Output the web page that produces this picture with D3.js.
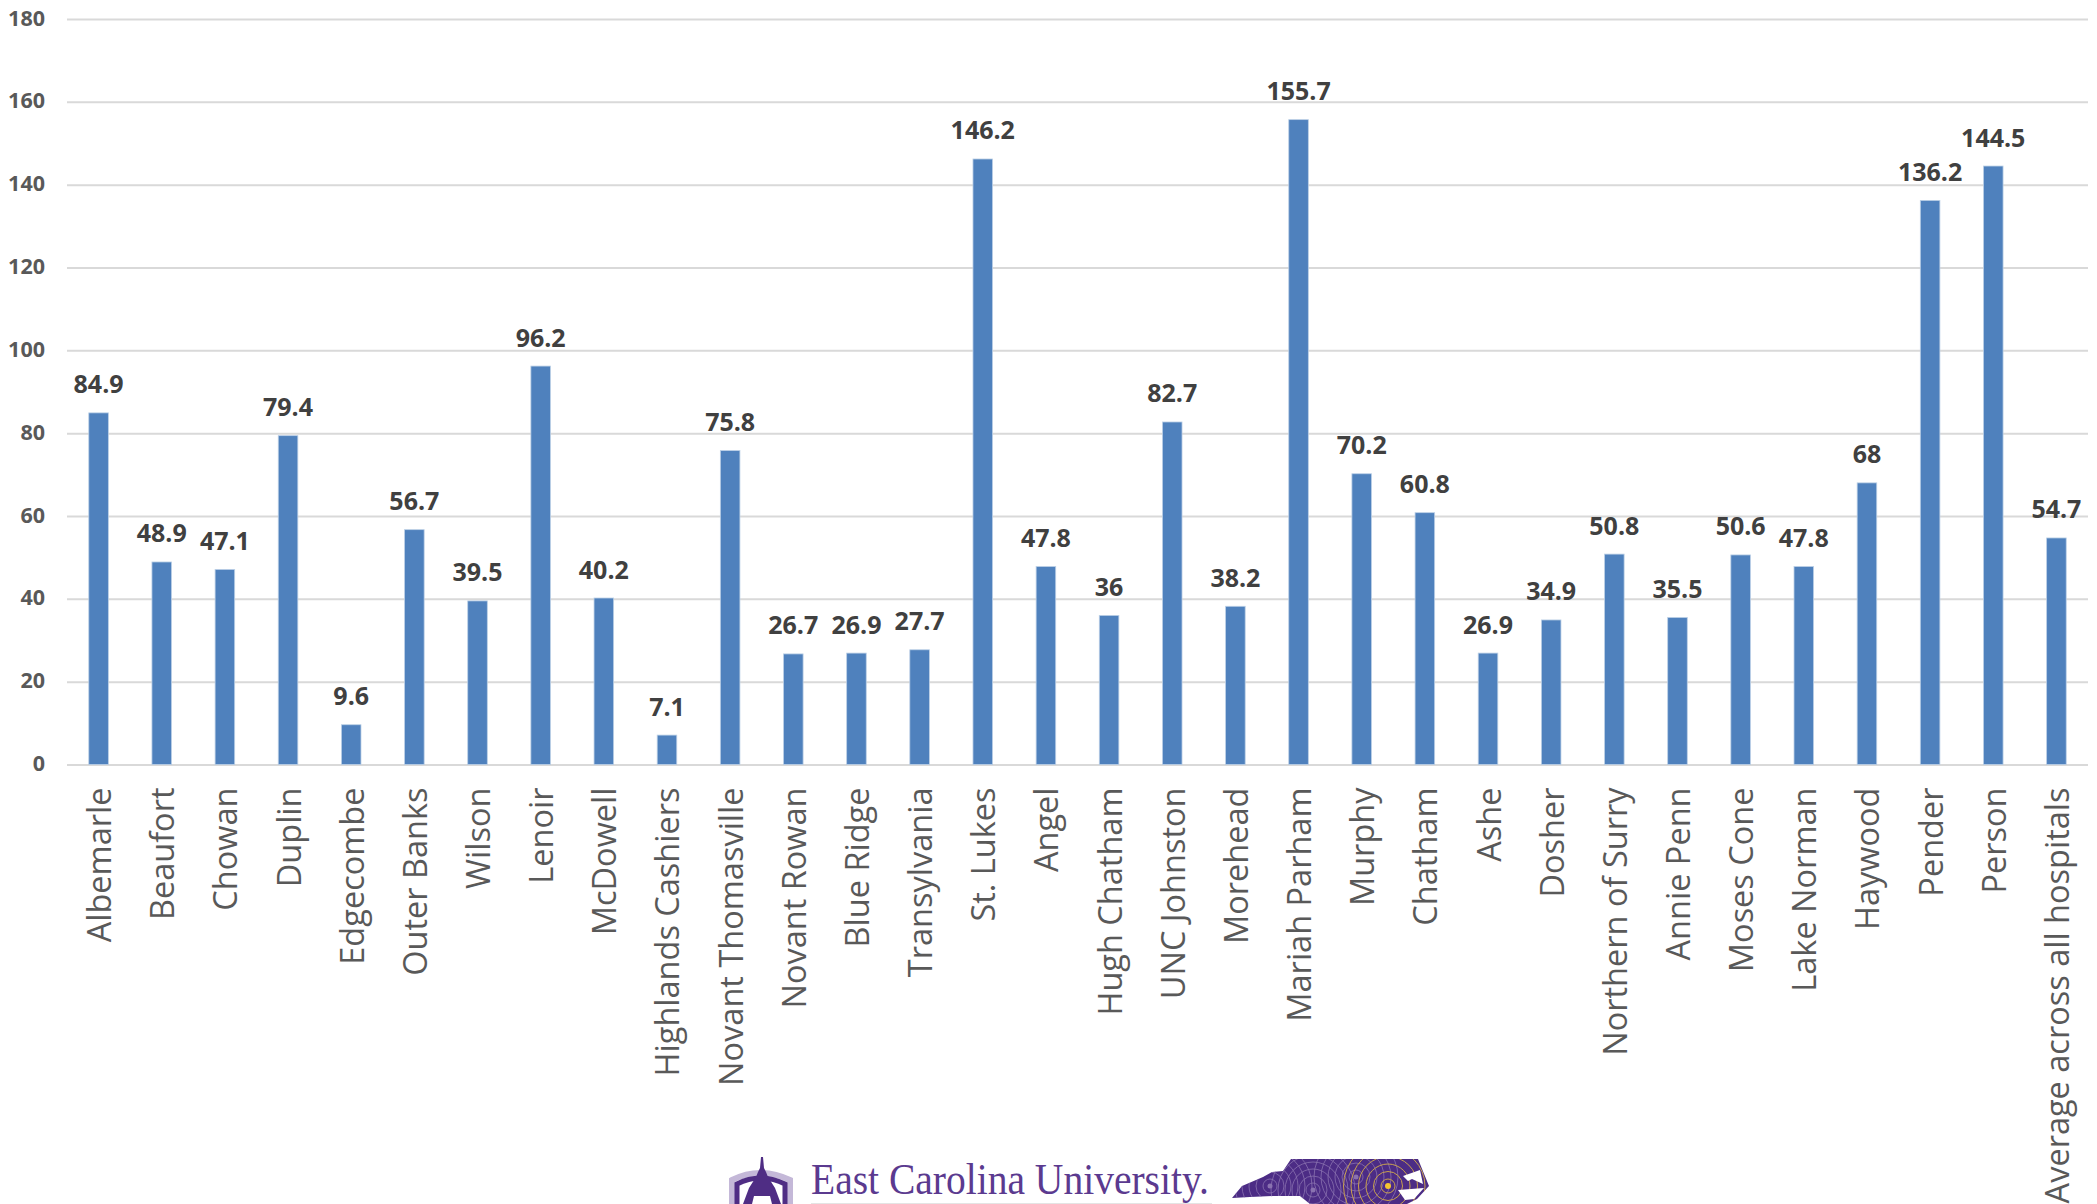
<!DOCTYPE html>
<html lang="en">
<head>
<meta charset="UTF-8">
<title>Hospitals</title>
<style>
  html, body { margin: 0; padding: 0; background: #fff; overflow: hidden; }
  svg { display: block; }
  .domain { display: none; }
  .tick line { stroke: #d9d9d9; stroke-width: 2; }
  .yaxis text { font: bold 21.5px "Open Sans", sans-serif; fill: #595959; }
  .xaxis text { font: 32.5px "Open Sans", sans-serif; fill: #595959; }
  .lbl { font: bold 25px "Open Sans", sans-serif; fill: #404040; text-anchor: middle; }
</style>
</head>
<body>
<svg id="chart" width="2097" height="1204"></svg>
<script src="https://d3js.org/d3.v7.min.js"></script>
<script>
const hospitals = ["Albemarle", "Beaufort", "Chowan", "Duplin", "Edgecombe", "Outer Banks", "Wilson", "Lenoir",
  "McDowell", "Highlands Cashiers", "Novant Thomasville", "Novant Rowan", "Blue Ridge", "Transylvania", "St. Lukes",
  "Angel", "Hugh Chatham", "UNC Johnston", "Morehead", "Mariah Parham", "Murphy", "Chatham", "Ashe", "Dosher",
  "Northern of Surry", "Annie Penn", "Moses Cone", "Lake Norman", "Haywood", "Pender", "Person",
  "Average across all hospitals"];
const values = [84.9, 48.9, 47.1, 79.4, 9.6, 56.7, 39.5, 96.2,
  40.2, 7.1, 75.8, 26.7, 26.9, 27.7, 146.2,
  47.8, 36, 82.7, 38.2, 155.7, 70.2, 60.8, 26.9, 34.9,
  50.8, 35.5, 50.6, 47.8, 68, 136.2, 144.5,
  54.7];
const yTicks = [0, 20, 40, 60, 80, 100, 120, 140, 160, 180];

const svg = d3.select("#chart");
const left = 67, right = 2088, top_ = 19, bottom = 764.5;

const x = d3.scaleBand().domain(hospitals).range([left, right]).paddingInner(0.69).paddingOuter(0.345);
const y = d3.scaleLinear().domain([0, 180]).range([bottom, top_]);

// gridlines + y labels
svg.append("g")
  .attr("class", "yaxis")
  .attr("transform", "translate(" + left + ",0)")
  .call(d3.axisLeft(y).tickValues(yTicks).tickSize(-(right - left)).tickPadding(22))
  .selectAll("text")
  .attr("dy", "0.28em");

// bars
svg.selectAll("rect.bar")
  .data(values)
  .enter()
  .append("rect")
  .attr("class", "bar")
  .attr("x", (d, i) => x(hospitals[i]))
  .attr("y", d => y(d))
  .attr("width", x.bandwidth())
  .attr("height", d => bottom - y(d))
  .attr("fill", "#4f81bd")
  .attr("stroke", "#bcd0e6")
  .attr("stroke-width", 0.8);

// value labels
svg.selectAll("text.lbl")
  .data(values)
  .enter()
  .append("text")
  .attr("class", "lbl")
  .attr("x", (d, i) => x(hospitals[i]) + x.bandwidth() / 2)
  .attr("y", d => y(d) - 19.5)
  .text(d => d);

// category labels, rotated
const xAxis = svg.append("g")
  .attr("class", "xaxis")
  .attr("transform", "translate(0," + bottom + ")")
  .call(d3.axisBottom(x).tickSize(0));
xAxis.selectAll("text")
  .attr("text-anchor", "end")
  .attr("dy", null)
  .attr("dominant-baseline", "central")
  .attr("transform", "translate(0,23) rotate(-90)")
  .attr("y", 0)
  .attr("x", 0);

// logo at the bottom
const purple = "#4f2d84";
const logo = svg.append("g");
const shield = "M732 1204 V1180 Q760 1166 790 1180 V1204";
logo.append("path").attr("d", shield).attr("fill", "none").attr("stroke", "#c4b8d8").attr("stroke-width", 6);
logo.append("path").attr("d", "M737 1204 V1184 Q760 1172 785 1184 V1204").attr("fill", "none").attr("stroke", purple).attr("stroke-width", 5);
logo.append("path")
  .attr("d", "M761 1157 L763 1157 L764 1168 L766 1172 L768 1177 L775 1188 L781 1204 H772 L770 1196 H754 L752 1204 H743 L749 1188 L756 1177 L758 1172 L760 1168 Z")
  .attr("fill", purple);
logo.append("text")
  .attr("x", 811).attr("y", 1194)
  .attr("textLength", 398).attr("lengthAdjust", "spacingAndGlyphs")
  .attr("font-family", "'Liberation Serif', serif")
  .attr("font-size", 44)
  .attr("fill", "#5b3a8f")
  .text("East Carolina University.");
logo.append("line").attr("x1", 811).attr("x2", 1212).attr("y1", 1203.5).attr("y2", 1203.5)
  .attr("stroke", "#e4e4e4").attr("stroke-width", 1);

const ncShape = "M1232 1198 L1242 1186 L1263 1177 L1272 1172 L1283 1171 L1291 1159 L1418 1159 L1429 1186 L1417 1199 L1407 1204 L1310 1204 L1300 1196 L1273 1196 L1250 1197 Z";
svg.append("clipPath").attr("id", "nc").append("path").attr("d", ncShape);
logo.append("path").attr("d", ncShape).attr("fill", "#4c2c85");
const rings = logo.append("g").attr("clip-path", "url(#nc)").attr("fill", "none");
[[1270, 1186], [1313, 1190], [1356, 1177]].forEach(c => {
  d3.range(6).forEach(i => {
    rings.append("circle").attr("cx", c[0]).attr("cy", c[1]).attr("r", 7 + i * 7)
      .attr("stroke", "#8a72b0").attr("stroke-width", 0.8);
  });
  rings.append("circle").attr("cx", c[0]).attr("cy", c[1]).attr("r", 2.5).attr("fill", "#8a72b0");
});
d3.range(6).forEach(i => {
  rings.append("circle").attr("cx", 1388).attr("cy", 1186).attr("r", 7 + i * 7.5)
    .attr("stroke", "#c9a24f").attr("stroke-width", 1);
});
rings.append("circle").attr("cx", 1388).attr("cy", 1186).attr("r", 3).attr("fill", "#f4c430");
logo.append("path").attr("d", "M1403 1176 L1420 1170 L1423 1184 L1412 1179 L1408 1181 Z").attr("fill", "#fff");
logo.append("path").attr("d", "M1398 1190 L1424 1188 L1414 1199 L1405 1200 Z").attr("fill", "#fff");
</script>
</body>
</html>
